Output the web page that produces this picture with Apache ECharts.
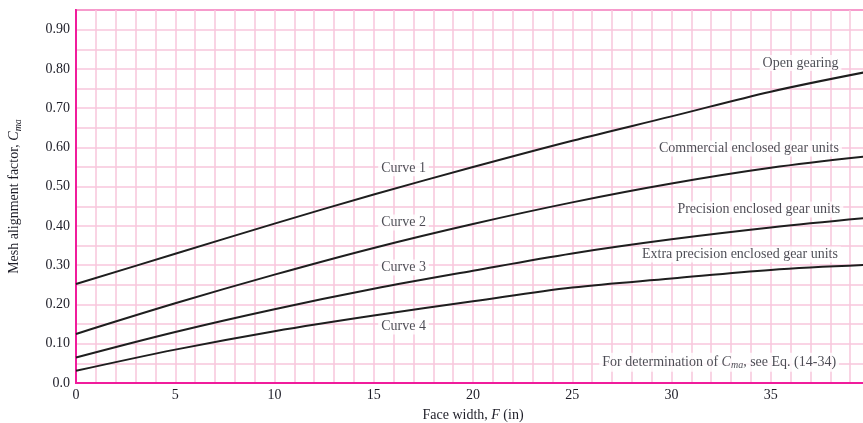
<!DOCTYPE html>
<html>
<head>
<meta charset="utf-8">
<script src="https://cdn.jsdelivr.net/npm/echarts@6/dist/echarts.min.js"></script>
<style>
  html, body { margin: 0; padding: 0; background: #fff; }
  #chart { width: 863px; height: 423px; }
</style>
</head>
<body>
<div id="chart"></div>
<script>
// Face width F (in) at which each curve is sampled
const faceWidth = [0, 5, 10, 15, 20, 25, 30, 35, 40];

// Mesh alignment factor Cma for each condition
const openGearing      = [0.252, 0.329, 0.406, 0.480, 0.550, 0.617, 0.679, 0.742, 0.794];
const commercialUnits  = [0.125, 0.203, 0.276, 0.344, 0.405, 0.460, 0.508, 0.548, 0.578];
const precisionUnits   = [0.065, 0.130, 0.188, 0.240, 0.286, 0.330, 0.366, 0.396, 0.421];
const extraPrecision   = [0.031, 0.085, 0.132, 0.172, 0.208, 0.243, 0.266, 0.288, 0.301];

// Text placed on the chart: [F, Cma, text]
const annotations = [
  [16.5, 0.547, 'Curve 1'],
  [16.5, 0.409, 'Curve 2'],
  [16.5, 0.294, 'Curve 3'],
  [16.5, 0.144, 'Curve 4'],
  [36.5, 0.815, 'Open gearing'],
  [33.9, 0.597, 'Commercial enclosed gear units'],
  [34.4, 0.442, 'Precision enclosed gear units'],
  [33.45, 0.327, 'Extra precision enclosed gear units'],
  [32.4, 0.053, 'For determination of {i|C}{sub|ma}, see Eq. (14-34)']
];

const SERIF = '"Liberation Serif", "DejaVu Serif", serif';
const TEXT = '#1e1e28';
const PINK = '#f8c6dc';
const MAGENTA = '#f01c9c';
const FS = 14;

const pair = ys => faceWidth.map((f, i) => [f, ys[i]]);

const curve = ys => ({
  type: 'line',
  data: pair(ys),
  smooth: 0.35,
  symbol: 'none',
  lineStyle: { color: '#1e1e1e', width: 2 },
  z: 3
});

const richSub = {
  i: { fontFamily: SERIF, fontSize: FS, fontStyle: 'italic', color: TEXT },
  sub: { fontFamily: SERIF, fontSize: 10, fontStyle: 'italic', color: TEXT, padding: [7, 0, 0, 0] }
};

const chart = echarts.init(document.getElementById('chart'), null, { renderer: 'canvas' });
chart.setOption({
  animation: false,
  backgroundColor: '#fff',
  grid: {
    left: 76, top: 10, bottom: 40, right: -7,
    outerBoundsMode: 'none',
    containLabel: false,
    show: true, borderColor: MAGENTA, borderWidth: 2, backgroundColor: '#fff'
  },
  xAxis: {
    type: 'value', min: 0, max: 40, interval: 5,
    name: 'Face width, {i|F} (in)',
    nameLocation: 'middle', nameGap: 25,
    nameTextStyle: { fontFamily: SERIF, fontSize: FS, color: TEXT, rich: { i: { fontFamily: SERIF, fontSize: FS, fontStyle: 'italic', color: TEXT } } },
    axisLine: { lineStyle: { color: MAGENTA, width: 2 } },
    axisTick: { show: false },
    axisLabel: {
      fontFamily: SERIF, fontSize: FS, color: TEXT, margin: 5,
      formatter: v => (v >= 40 ? '' : String(v))
    },
    splitLine: { show: true, lineStyle: { color: PINK, width: 1.5 } },
    minorTick: { show: false, splitNumber: 5 },
    minorSplitLine: { show: true, lineStyle: { color: PINK, width: 1.5 } }
  },
  yAxis: {
    type: 'value', min: 0, max: 0.95, interval: 0.1,
    name: 'Mesh alignment factor, {i|C}{sub|ma}',
    nameLocation: 'middle', nameGap: 53, nameRotate: 90,
    nameTextStyle: { fontFamily: SERIF, fontSize: FS, color: TEXT, rich: richSub },
    axisLine: { show: true, lineStyle: { color: MAGENTA, width: 2 } },
    axisTick: { show: false },
    axisLabel: {
      fontFamily: SERIF, fontSize: FS, color: TEXT, margin: 6,
      formatter: v => (v > 0.9001 ? '' : (v === 0 ? '0.0' : v.toFixed(2)))
    },
    splitLine: { show: true, lineStyle: { color: PINK, width: 1.5 } },
    minorTick: { show: false, splitNumber: 2 },
    minorSplitLine: { show: true, lineStyle: { color: PINK, width: 1.5 } }
  },
  series: [
    curve(openGearing),
    curve(commercialUnits),
    curve(precisionUnits),
    curve(extraPrecision),
    {
      type: 'scatter',
      data: annotations,
      symbolSize: 0,
      z: 5,
      label: {
        show: true,
        position: 'inside',
        formatter: p => p.data[2],
        fontFamily: SERIF, fontSize: FS, color: TEXT,
        backgroundColor: '#fff',
        padding: [1, 3],
        rich: richSub
      },
      emphasis: { disabled: true }
    }
  ]
});
</script>
</body>
</html>
